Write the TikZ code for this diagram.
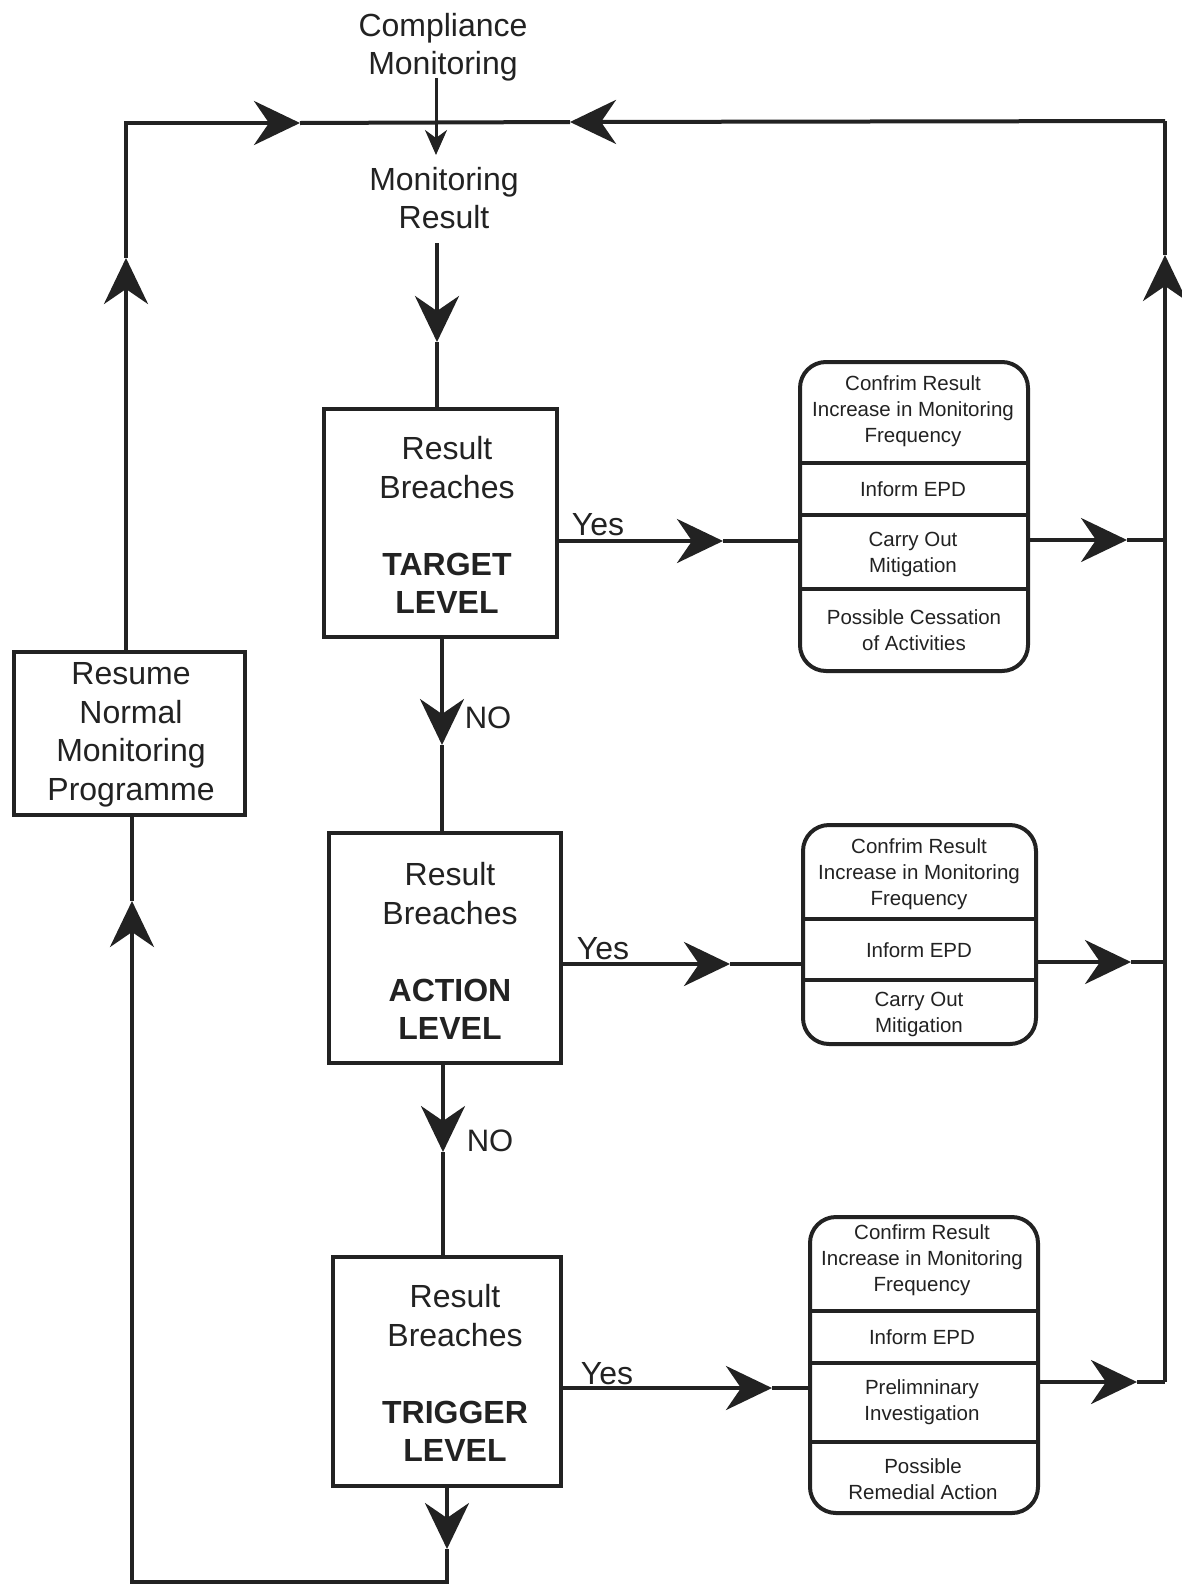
\documentclass[tikz,border=0pt]{standalone}
\usepackage{fontspec}
\setmainfont{Liberation Sans}
\usetikzlibrary{arrows.meta}
\definecolor{ink}{HTML}{222222}
\begin{document}
\begin{tikzpicture}[x=1pt,y=-1pt,color=ink,line width=4pt,
  bigtxt/.style={font=\fontsize{32}{38.5}\selectfont,align=center,inner sep=0pt},
  smalltxt/.style={font=\fontsize{20.5}{26}\selectfont,align=center,inner sep=0pt},
  levelbox/.style={draw,line width=4.5pt,rectangle,inner sep=0pt,outer sep=0pt},
  actbox/.style={draw,line width=4pt,rectangle,rounded corners=26pt,inner sep=0pt,outer sep=0pt},
  bigarr/.style={-{Stealth[length=46pt,width=44pt,inset=15pt]}},
  smallarr/.style={line width=3pt,-{Stealth[length=25pt,width=22pt,inset=8pt]}}]
\fill[white] (0,0) rectangle (1182,1588);
\useasboundingbox (0,0) rectangle (1182,1588);

% entry texts
\node[bigtxt] (cm) at (443,47) {Compliance\\Monitoring};
\node[bigtxt] (mr) at (444,198) {Monitoring\\Result};

% level boxes
\node[levelbox,minimum width=233pt,minimum height=228pt] (tgt) at (440.5,523) {};
\node[bigtxt] (tgtTxt) at (447,525) {Result\\Breaches\\[38.5pt]\textbf{TARGET}\\\textbf{LEVEL}};
\node[levelbox,minimum width=232pt,minimum height=230pt] (act) at (445,948) {};
\node[bigtxt] (actTxt) at (450,951) {Result\\Breaches\\[38.5pt]\textbf{ACTION}\\\textbf{LEVEL}};
\node[levelbox,minimum width=228pt,minimum height=229pt] (trg) at (447,1371.5) {};
\node[bigtxt] (trgTxt) at (455,1373) {Result\\Breaches\\[38.5pt]\textbf{TRIGGER}\\\textbf{LEVEL}};

% resume box
\node[levelbox,minimum width=231pt,minimum height=163pt] (res) at (129.5,733.5) {};
\node[bigtxt] (resTxt) at (131,735) {Resume\\Normal\\Monitoring\\Programme};

% action boxes on the right
\node[actbox,minimum width=228pt,minimum height=309pt] (rb1) at (914,516.5) {};
\draw (rb1.west |- 0,463) -- (rb1.east |- 0,463);
\draw (rb1.west |- 0,515) -- (rb1.east |- 0,515);
\draw (rb1.west |- 0,589) -- (rb1.east |- 0,589);
\node[smalltxt] (r1a) at (913,411) {Confrim Result\\Increase in Monitoring\\Frequency};
\node[smalltxt] (r1b) at (913,489) {Inform EPD};
\node[smalltxt] (r1c) at (913,554) {Carry Out\\Mitigation};
\node[smalltxt] (r1d) at (914,630) {Possible Cessation\\of Activities};

\node[actbox,minimum width=233pt,minimum height=219pt] (rb2) at (919.5,934.5) {};
\draw (rb2.west |- 0,919) -- (rb2.east |- 0,919);
\draw (rb2.west |- 0,980) -- (rb2.east |- 0,980);
\node[smalltxt] (r2a) at (919,874) {Confrim Result\\Increase in Monitoring\\Frequency};
\node[smalltxt] (r2b) at (919,950) {Inform EPD};
\node[smalltxt] (r2c) at (919,1014) {Carry Out\\Mitigation};

\node[actbox,minimum width=228pt,minimum height=296pt] (rb3) at (924,1365) {};
\draw (rb3.west |- 0,1311) -- (rb3.east |- 0,1311);
\draw (rb3.west |- 0,1363) -- (rb3.east |- 0,1363);
\draw (rb3.west |- 0,1442) -- (rb3.east |- 0,1442);
\node[smalltxt] (r3a) at (922,1260) {Confirm Result\\Increase in Monitoring\\Frequency};
\node[smalltxt] (r3b) at (922,1337) {Inform EPD};
\node[smalltxt] (r3c) at (922,1402) {Prelimninary\\Investigation};
\node[smalltxt] (r3d) at (923,1479) {Possible\\Remedial Action};

% branch labels
\node[bigtxt] (yes1) at (598,525) {Yes};
\node[bigtxt] (yes2) at (603,949) {Yes};
\node[bigtxt] (yes3) at (607,1374) {Yes};
\node[bigtxt,font=\fontsize{31}{36}\selectfont] (no1) at (488,718) {NO};
\node[bigtxt,font=\fontsize{31}{36}\selectfont] (no2) at (490,1141) {NO};

% key points of the loop
\coordinate (cmTail) at (436,78);
\coordinate (cmTip) at (436,155);
\coordinate (tl) at (126,123);
\coordinate (tr) at (1165,121);
\coordinate (inR) at (300,123);
\coordinate (inL) at (570,122);
\coordinate (upL) at (126,258);
\coordinate (upR) at (1165,255);
\coordinate (br) at (1165,1382);
\coordinate (mrTail) at (437,243);
\coordinate (mrTip) at (437,342);
\coordinate (n1Tip) at (442,745);
\coordinate (n2Tip) at (443,1152);
\coordinate (dTip) at (447,1549);
\coordinate (bl) at (132,1582);
\coordinate (upB) at (132,901);
\coordinate (y1Tip) at (723,541);
\coordinate (y2Tip) at (730,964);
\coordinate (y3Tip) at (772,1388);
\coordinate (o1Tip) at (1127,540);
\coordinate (o2Tip) at (1131,962);
\coordinate (o3Tip) at (1137,1382);

% input from compliance monitoring
\draw[smallarr] (cmTail) -- (cmTip);

% main feed into the target level check
\draw[bigarr] (mrTail) -- (mrTip);
\draw (mrTip) -- (tgt.north -| mrTip);

% NO branches
\draw[bigarr] (tgt.south -| n1Tip) -- (n1Tip);
\draw (n1Tip) -- (act.north -| n1Tip);
\draw[bigarr] (act.south -| n2Tip) -- (n2Tip);
\draw (n2Tip) -- (trg.north -| n2Tip);

% Yes branches
\draw[bigarr] (tgt.east |- y1Tip) -- (y1Tip);
\draw (y1Tip) -- (rb1.west |- y1Tip);
\draw[bigarr] (act.east |- y2Tip) -- (y2Tip);
\draw (y2Tip) -- (rb2.west |- y2Tip);
\draw[bigarr] (trg.east |- y3Tip) -- (y3Tip);
\draw (y3Tip) -- (rb3.west |- y3Tip);

% outputs to the right return line
\draw[bigarr] (rb1.east |- o1Tip) -- (o1Tip);
\draw (o1Tip) -- (o1Tip -| br);
\draw[bigarr] (rb2.east |- o2Tip) -- (o2Tip);
\draw (o2Tip) -- (o2Tip -| br);
\draw[bigarr] (rb3.east |- o3Tip) -- (o3Tip);
\draw (o3Tip) -- (br);

% right return line and top line
\draw[bigarr] (br) -- (upR);
\draw (upR) -- (tr);
\draw[bigarr] (tr) -- (inL);
\draw (inL) -- (inR);

% left return line from the resume box
\draw[bigarr] (res.north -| tl) -- (upL);
\draw[bigarr] (upL) -- (tl) -- (inR);

% bottom path from trigger level to the resume box
\draw[bigarr] (trg.south -| dTip) -- (dTip);
\draw[bigarr] (dTip) -- (dTip |- bl) -- (bl) -- (upB);
\draw (upB) -- (res.south -| upB);
\end{tikzpicture}
\end{document}
